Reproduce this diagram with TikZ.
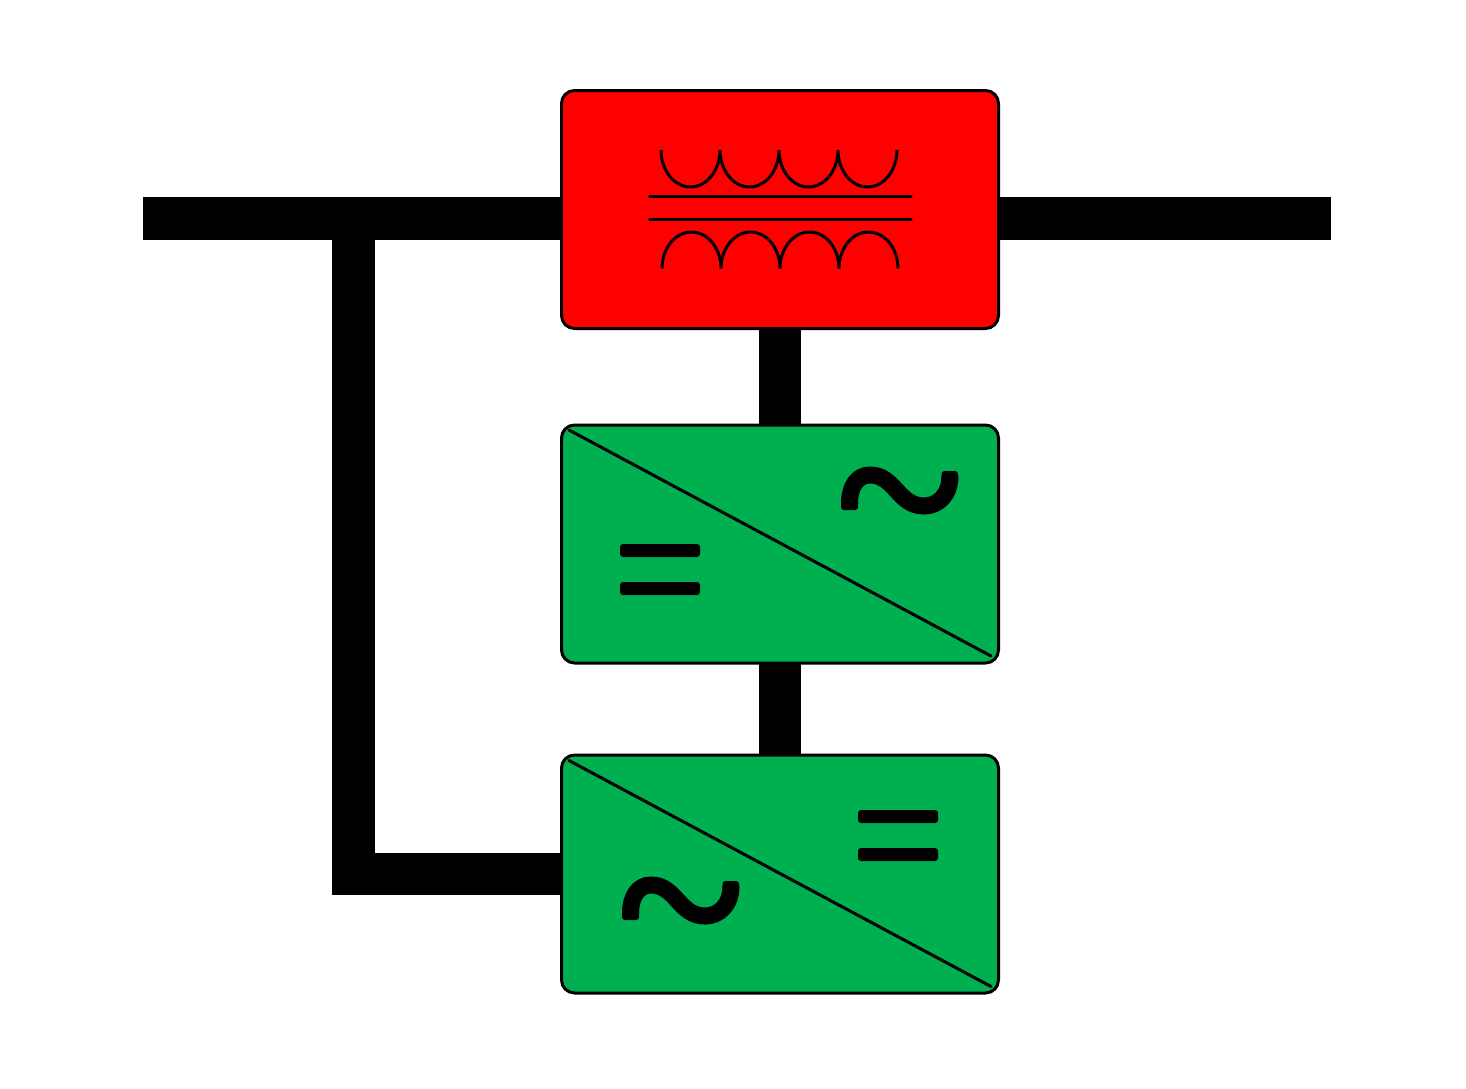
\documentclass[tikz,border=0pt]{standalone}
\tikzset{
  px/.style={x=0.5pt,y=-0.5pt},
  unitbox/.style={draw=black,line width=1.5pt,rounded corners=6.5pt,minimum width=218.5pt,minimum height=119pt,inner sep=0pt,outer sep=0pt},
  redbox/.style={unitbox,fill=red},
  greenbox/.style={unitbox,fill=convgreen},
  busbar/.style={draw=black,line width=21.25pt,line cap=butt,line join=miter},
  thin line/.style={draw=black,line width=1.5pt},
  coil/.style={draw=black,line width=1.5pt,line cap=butt},
  tilde/.pic={
    \draw[black,line width=8.5pt,line cap=butt] (849.5,503) .. controls (849.5,487) and (857,475) .. (870,475)
       .. controls (895,475) and (898,506) .. (924,506)
       .. controls (938,506) and (950,495) .. (950,476);
    \fill[black,rounded corners=1.5pt] (841,497) rectangle (858,510);
    \fill[black,rounded corners=1.5pt] (941.5,471) rectangle (958,484);
  },
  equalsign/.pic={
    \fill[black,rounded corners=1.5pt] (620,544) rectangle (700,557);
    \fill[black,rounded corners=1.5pt] (620,582) rectangle (700,595);
  }
}
\definecolor{convgreen}{HTML}{00B050}
\begin{document}
\begin{tikzpicture}[px]
\useasboundingbox (0,0) rectangle (1466,1088);
\node[redbox] (xfmr) at (780,209.5) {};
\node[greenbox] (convA) at (780,544) {};
\node[greenbox] (convB) at (780,874) {};
\coordinate (busL) at (143,218.5);
\coordinate (busR) at (1331,218.5);
\coordinate (tap) at (353.5,218.5);
\coordinate (bend) at (353.5,874);
% connectors
\draw[busbar] (busL) -- (xfmr.west |- busL);
\draw[busbar] (xfmr.east |- busR) -- (busR);
\draw[busbar] (tap) -- (bend) -- (convB.west |- bend);
\draw[busbar] (xfmr.south) -- (convA.north);
\draw[busbar] (convA.south) -- (convB.north);
% transformer symbol
\draw[coil] (661,150) arc (180:0:29.5 and 37) arc (180:0:29.5 and 37) arc (180:0:29.5 and 37) arc (180:0:29.5 and 37);
\draw[coil] (662,268.5) arc (180:360:29.5 and 36.5) arc (180:360:29.5 and 36.5) arc (180:360:29.5 and 36.5) arc (180:360:29.5 and 36.5);
\draw[thin line,line cap=round] (649.5,196.5) -- (911,196.5);
\draw[thin line,line cap=round] (649.5,219) -- (911,219);
% converter A
\draw[thin line,line cap=round] (569,430) -- (991,656);
\pic at (0,0) {tilde};
\pic at (0,0) {equalsign};
% converter B
\draw[thin line,line cap=round] (569,760.5) -- (991,986.5);
\pic at (-219,410) {tilde};
\pic at (238,266) {equalsign};
\end{tikzpicture}
\end{document}
